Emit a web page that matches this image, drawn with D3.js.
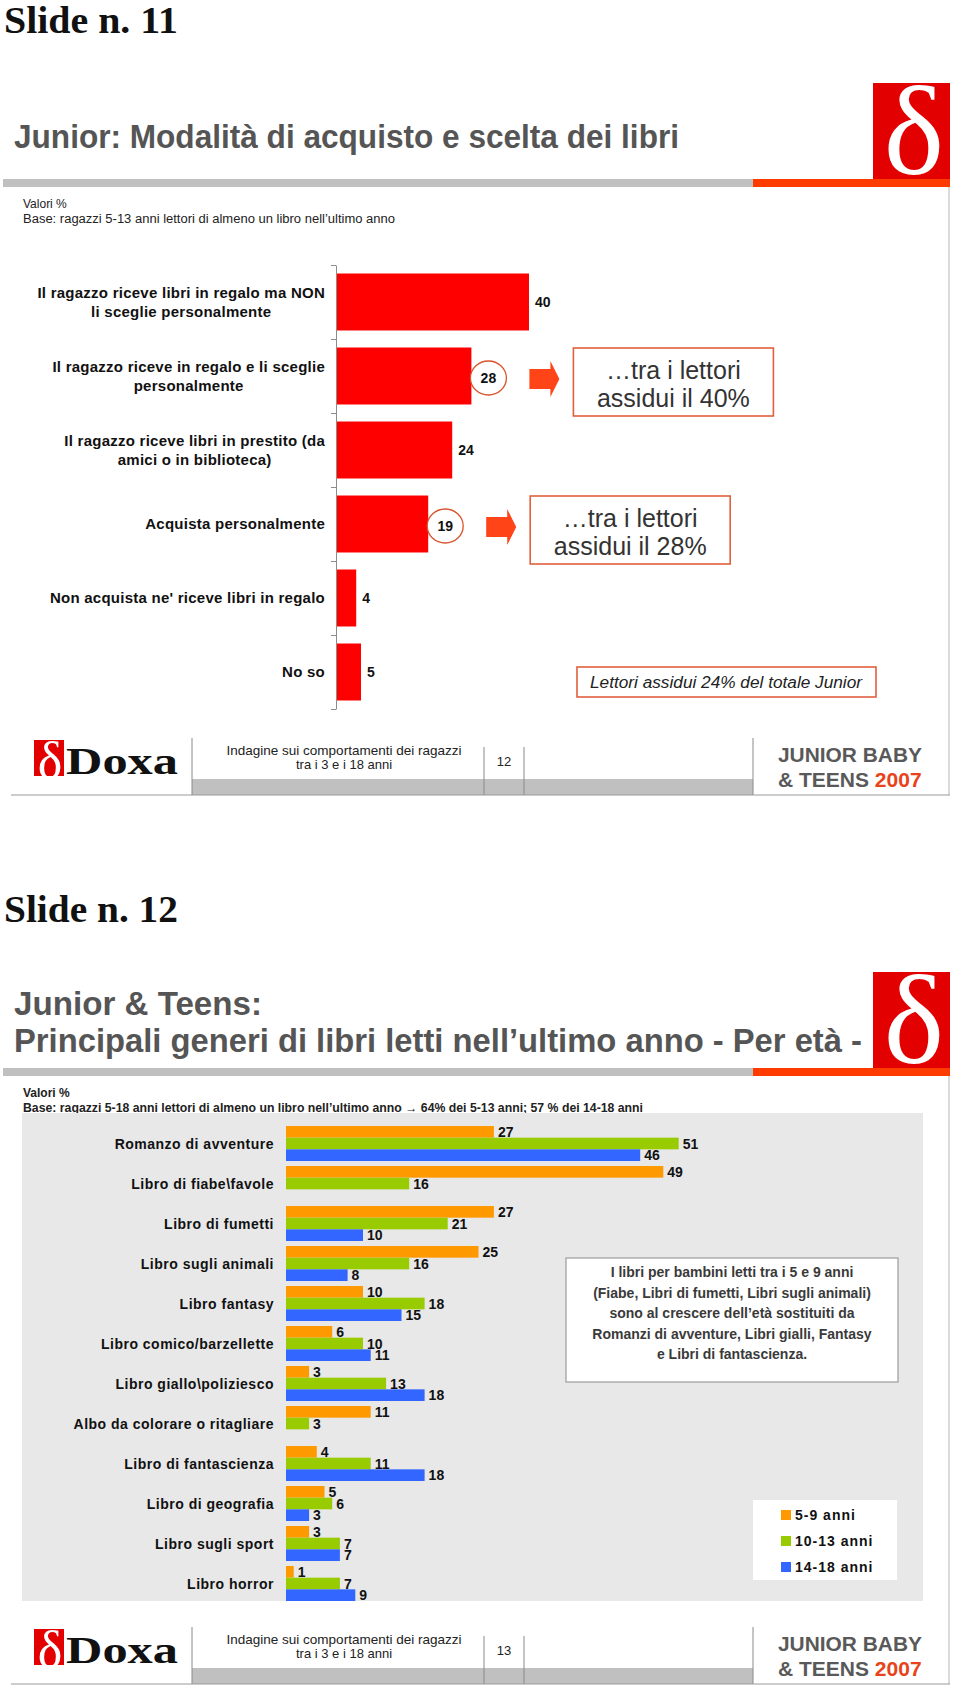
<!DOCTYPE html>
<html><head><meta charset="utf-8">
<script src="https://cdn.jsdelivr.net/npm/d3@7"></script>
<style>body{margin:0;background:#fff}svg{display:block}</style>
</head><body>
<script>
// ---------------- DATA ----------------
const slide1Categories = [
  "Il ragazzo riceve libri in regalo ma NON\nli sceglie personalmente",
  "Il ragazzo riceve in regalo e li sceglie\npersonalmente",
  "Il ragazzo riceve libri in prestito (da\namici o in biblioteca)",
  "Acquista personalmente",
  "Non acquista ne' riceve libri in regalo",
  "No so"
];
const slide1Values = [40, 28, 24, 19, 4, 5];
const slide1Circled = [false, true, false, true, false, false];
const slide1CalloutCategories = [1, 3];
const slide1CalloutTexts = [
  ["\u2026tra i lettori", "assidui il 40%"],
  ["\u2026tra i lettori", "assidui il 28%"]
];
const slide1Note = "Lettori assidui 24% del totale Junior";

const slide2Categories = [
  "Romanzo di avventure", "Libro di fiabe\\favole", "Libro di fumetti",
  "Libro sugli animali", "Libro fantasy", "Libro comico/barzellette",
  "Libro giallo\\poliziesco", "Albo da colorare o ritagliare",
  "Libro di fantascienza", "Libro di geografia", "Libro sugli sport", "Libro horror"
];
const series5to9   = [27, 49, 27, 25, 10, 6, 3, 11, 4, 5, 3, 1];
const series10to13 = [51, 16, 21, 16, 18, 10, 13, 3, 11, 6, 7, 7];
const series14to18 = [46, null, 10, 8, 15, 11, 18, null, 18, 3, 7, 9];
const seriesNames  = ["5-9 anni", "10-13 anni", "14-18 anni"];
const slide2Note = [
  "I libri per bambini letti tra i 5 e 9 anni",
  "(Fiabe, Libri di fumetti, Libri sugli animali)",
  "sono al crescere dell\u2019et\u00e0 sostituiti da",
  "Romanzi di avventure, Libri gialli, Fantasy",
  "e Libri di fantascienza."
];

// ---------------- DRAWING ----------------
const SANS = "'Liberation Sans', Arial, Helvetica, sans-serif";
const SERIF = "'Liberation Serif', 'Times New Roman', serif";
const svg = d3.select("body").append("svg").attr("width", 960).attr("height", 1687);
const defs = svg.append("defs");
svg.append("rect").attr("width", 960).attr("height", 1687).attr("fill", "#fff");

let clipN = 0;
function deltaLogo(x, y, w, h, fs, bx, by) {
  const id = "clip" + (clipN++);
  defs.append("clipPath").attr("id", id).append("rect")
    .attr("x", x).attr("y", y).attr("width", w).attr("height", h);
  svg.append("rect").attr("x", x).attr("y", y).attr("width", w).attr("height", h).attr("fill", "#e30000");
  svg.append("text").attr("clip-path", `url(#${id})`).attr("x", bx).attr("y", by)
    .attr("text-anchor", "middle").attr("font-family", SERIF).attr("font-size", fs)
    .attr("fill", "#fff").text("\u03b4");
}

function txt(x, y, s, o) {
  const t = svg.append("text").attr("x", x).attr("y", y).attr("font-family", SANS).text(s);
  Object.entries(o || {}).forEach(([k, v]) => t.attr(k, v));
  return t;
}

function slideHeader(o, no, titleLines, titleLens, titleBase, baseText, baseLen, baseBold) {
  txt(4, o + 33, "Slide n. " + no, {"font-family": SERIF, "font-weight": "bold", "font-size": 38,
    fill: "#111", textLength: 174, lengthAdjust: "spacingAndGlyphs"});
  titleLines.forEach((t, i) => txt(14, o + titleBase[i], t, {"font-weight": "bold", "font-size": 33,
    fill: "#555555", textLength: titleLens[i], lengthAdjust: "spacingAndGlyphs"}));
  svg.append("rect").attr("x", 3).attr("y", o + 179).attr("width", 750).attr("height", 8).attr("fill", "#c0c0c0");
  svg.append("rect").attr("x", 753).attr("y", o + 179).attr("width", 197).attr("height", 8).attr("fill", "#ff3c00");
  deltaLogo(873, o + 83, 77, 96, 128, 914, o + 174);
  svg.append("line").attr("x1", 949).attr("x2", 949).attr("y1", o + 187).attr("y2", o + 795)
    .attr("stroke", "#b5b5b5").attr("stroke-width", 1);
  txt(23, o + 208, "Valori %", {"font-size": 12, fill: "#222", "font-weight": baseBold ? "bold" : "normal"});
  txt(23, o + 223, baseText, {"font-size": 12, fill: "#222", "font-weight": baseBold ? "bold" : "normal",
    textLength: baseLen, lengthAdjust: "spacingAndGlyphs"});
}

function slideFooter(o, page) {
  deltaLogo(34, o + 740, 30, 36, 52, 50, o + 778);
  txt(66, o + 774, "Doxa", {"font-family": SERIF, "font-weight": "bold", "font-size": 37, fill: "#111",
    textLength: 112, lengthAdjust: "spacingAndGlyphs"});
  svg.append("rect").attr("x", 192).attr("y", o + 779).attr("width", 561).attr("height", 16).attr("fill", "#c0c0c0");
  [[192, 738], [484, 747], [524, 747], [753, 738]].forEach(([x, y]) =>
    svg.append("line").attr("x1", x).attr("x2", x).attr("y1", o + y).attr("y2", o + 795)
      .attr("stroke", "#8a8a8a").attr("stroke-width", 1));
  svg.append("line").attr("x1", 11).attr("x2", 950).attr("y1", o + 795).attr("y2", o + 795)
    .attr("stroke", "#9a9a9a").attr("stroke-width", 1);
  txt(344, o + 755, "Indagine sui comportamenti dei ragazzi", {"font-size": 13, fill: "#222",
    "text-anchor": "middle", textLength: 235, lengthAdjust: "spacingAndGlyphs"});
  txt(344, o + 769, "tra i 3 e i 18 anni", {"font-size": 13, fill: "#222", "text-anchor": "middle"});
  txt(504, o + 766, page, {"font-size": 13, fill: "#222", "text-anchor": "middle"});
  txt(778, o + 762, "JUNIOR BABY", {"font-size": 21, "font-weight": "bold", fill: "#595959",
    textLength: 144, lengthAdjust: "spacingAndGlyphs"});
  const t2 = txt(778, o + 787, "& TEENS ", {"font-size": 21, "font-weight": "bold", fill: "#595959"});
  t2.append("tspan").attr("fill", "#e8431b").text("2007");
}

// ================= SLIDE 1 =================
slideHeader(0, "11", ["Junior: Modalit\u00e0 di acquisto e scelta dei libri"], [665], [148],
  "Base: ragazzi 5-13 anni lettori di almeno un libro nell\u2019ultimo anno", 372, false);
slideFooter(0, "12");

const y1 = d3.scaleBand().domain(d3.range(slide1Categories.length)).range([265, 709])
  .paddingInner(0.23).paddingOuter(0.115);
const x1 = d3.scaleLinear().domain([0, 40]).range([337, 529]);

svg.append("g").selectAll("rect").data(slide1Values).join("rect")
  .attr("x", x1(0)).attr("y", (d, i) => y1(i))
  .attr("width", d => x1(d) - x1(0)).attr("height", y1.bandwidth()).attr("fill", "#ff0000");

// axis with ticks at category boundaries
const yb = d3.scaleLinear().domain([0, slide1Categories.length]).range([265, 709]);
const ax1 = svg.append("g").attr("transform", "translate(336,0)")
  .call(d3.axisLeft(yb).tickValues(d3.range(slide1Categories.length + 1)).tickFormat("").tickSize(5).tickSizeOuter(0));
ax1.selectAll("line,path").attr("stroke", "#8c8c8c");

// category labels (centered lines, block right-aligned)
slide1Categories.forEach((c, i) => {
  const lines = c.split("\n");
  const cy = y1(i) + y1.bandwidth() / 2;
  const t = svg.append("text").attr("font-family", SANS).attr("font-weight", "bold")
    .attr("font-size", 15).attr("letter-spacing", 0.25).attr("fill", "#111").attr("text-anchor", "middle");
  lines.forEach((l, j) => t.append("tspan").attr("y", cy + (j - (lines.length - 1) / 2) * 19 + 5).text(l));
  const maxW = d3.max(t.selectAll("tspan").nodes(), n => n.getComputedTextLength());
  t.selectAll("tspan").attr("x", 325 - maxW / 2);
});

// value labels
slide1Values.forEach((v, i) => {
  const cy = y1(i) + y1.bandwidth() / 2;
  if (slide1Circled[i]) {
    svg.append("ellipse").attr("cx", x1(v) + 17).attr("cy", cy + 2).attr("rx", 18).attr("ry", 17)
      .attr("fill", "#fff").attr("stroke", "#d9532b").attr("stroke-width", 1.3);
    txt(x1(v) + 17, cy + 2, String(v), {"font-size": 14, "font-weight": "bold", fill: "#111",
      "text-anchor": "middle", dy: "0.36em"});
  } else {
    txt(x1(v) + 6, cy, String(v), {"font-size": 14, "font-weight": "bold", fill: "#111", dy: "0.36em"});
  }
});

// callouts
slide1CalloutCategories.forEach((ci, k) => {
  const v = slide1Values[ci];
  const cy = y1(ci) + y1.bandwidth() / 2 + 3;
  const ax = x1(v) + 58;
  svg.append("path").attr("d",
    `M${ax},${cy - 10}H${ax + 21}V${cy - 18}L${ax + 30},${cy}L${ax + 21},${cy + 18}V${cy + 10}H${ax}Z`)
    .attr("fill", "#ff4418");
  const bx = ax + 44, bw = 200, bcy = cy + 3;
  svg.append("rect").attr("x", bx).attr("y", bcy - 34).attr("width", bw).attr("height", 68)
    .attr("fill", "#fff").attr("stroke", "#e0603c").attr("stroke-width", 1.6);
  slide1CalloutTexts[k].forEach((s, j) =>
    txt(bx + bw / 2, bcy - 3 + j * 28, s, {"font-size": 25, fill: "#333", "text-anchor": "middle"}));
});

// note box
svg.append("rect").attr("x", 577).attr("y", 667).attr("width", 299).attr("height", 30)
  .attr("fill", "#fff").attr("stroke", "#e0603c").attr("stroke-width", 1.6);
txt(726, 688, slide1Note, {"font-size": 16, "font-style": "italic", fill: "#222", "text-anchor": "middle",
  textLength: 272, lengthAdjust: "spacingAndGlyphs"});

// ================= SLIDE 2 =================
const O2 = 889;
slideHeader(O2, "12", ["Junior & Teens:", "Principali generi di libri letti nell\u2019ultimo anno - Per et\u00e0 -"],
  [248, 848], [126, 163],
  "Base: ragazzi 5-18 anni lettori di almeno un libro nell\u2019ultimo anno \u2192 64% dei 5-13 anni; 57 % dei 14-18 anni",
  620, true);
slideFooter(O2, "13");

svg.append("rect").attr("x", 22).attr("y", 1113).attr("width", 901).attr("height", 488).attr("fill", "#e8e8e8");

const series = [series5to9, series10to13, series14to18];
const colors = ["#ff9900", "#99cc00", "#3366ff"];
const y2 = d3.scaleBand().domain(d3.range(slide2Categories.length)).range([1123.5, 1603.5])
  .paddingInner(0.125).paddingOuter(0.0625);
const yIn = d3.scaleBand().domain(d3.range(series.length)).range([0, y2.bandwidth()]);
const x2 = d3.scaleLinear().domain([0, 50]).range([286, 671]);

const flat = [];
slide2Categories.forEach((c, i) => series.forEach((s, k) => {
  if (s[i] != null) flat.push({i, k, v: s[i]});
}));

svg.append("g").selectAll("rect").data(flat).join("rect")
  .attr("x", x2(0)).attr("y", d => y2(d.i) + yIn(d.k))
  .attr("width", d => x2(d.v) - x2(0)).attr("height", yIn.bandwidth())
  .attr("fill", d => colors[d.k]);

svg.append("g").selectAll("text").data(flat).join("text")
  .attr("x", d => x2(d.v) + 4).attr("y", d => y2(d.i) + yIn(d.k) + yIn.bandwidth() / 2)
  .attr("dy", "0.36em").attr("font-family", SANS).attr("font-weight", "bold").attr("font-size", 14)
  .attr("fill", "#111").text(d => d.v);

svg.append("g").selectAll("text").data(slide2Categories).join("text")
  .attr("x", 274).attr("y", (d, i) => y2(i) + y2.bandwidth() / 2).attr("dy", "0.36em")
  .attr("text-anchor", "end").attr("font-family", SANS).attr("font-weight", "bold")
  .attr("font-size", 14).attr("letter-spacing", 0.5).attr("fill", "#111").text(d => d);

// note box
svg.append("rect").attr("x", 566).attr("y", 1258).attr("width", 332).attr("height", 124)
  .attr("fill", "#fff").attr("stroke", "#8a8a8a").attr("stroke-width", 1);
slide2Note.forEach((s, j) => txt(732, 1277 + j * 20.5, s, {"font-size": 14, "font-weight": "bold",
  fill: "#3a3a3a", "text-anchor": "middle"}));

// legend
svg.append("rect").attr("x", 753).attr("y", 1500).attr("width", 144).attr("height", 80).attr("fill", "#fff");
seriesNames.forEach((n, k) => {
  const cy = 1515 + k * 26;
  svg.append("rect").attr("x", 781).attr("y", cy - 5).attr("width", 10).attr("height", 10).attr("fill", colors[k]);
  txt(795, cy, n, {"font-size": 14, "font-weight": "bold", fill: "#111", dy: "0.36em", "letter-spacing": 1});
});
</script>
</body></html>
